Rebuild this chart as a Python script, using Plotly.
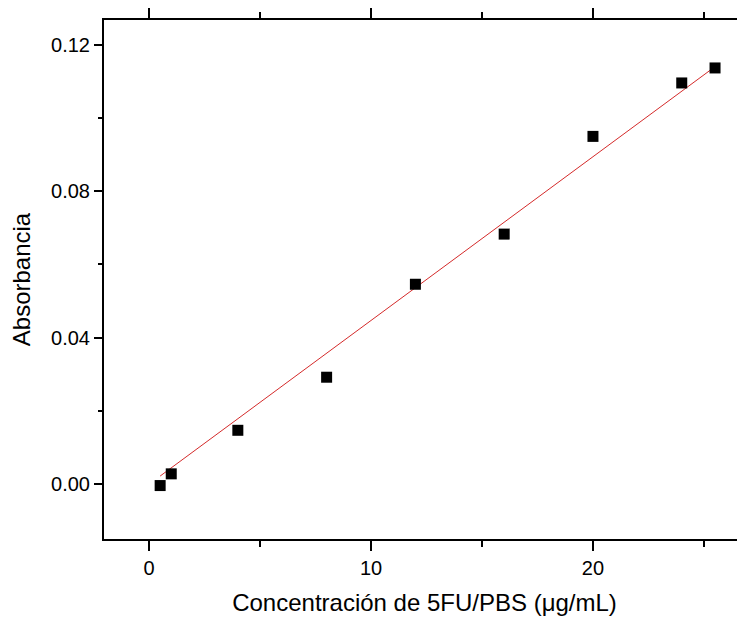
import plotly.graph_objects as go

# concentracion de 5FU en PBS (ug/mL) y absorbancia medida
conc = [0.5, 1, 4, 8, 12, 16, 20, 24, 25.5]
absorb = [-0.0004, 0.0028, 0.0147, 0.0292, 0.0546, 0.0683, 0.0950, 0.1096, 0.1137]

# recta de ajuste lineal (extremos)
fit_x = [0.5, 25.6]
fit_y = [0.0022, 0.1145]

x_ticks = [0, 10, 20]
y_ticks = [0.00, 0.04, 0.08, 0.12]
y_tick_text = ["0.00", "0.04", "0.08", "0.12"]

fig = go.Figure()
fig.add_trace(go.Scatter(x=fit_x, y=fit_y, mode="lines",
                         line=dict(color="#d42a2a", width=1), showlegend=False))
fig.add_trace(go.Scatter(x=conc, y=absorb, mode="markers",
                         marker=dict(symbol="square", size=11, color="black"),
                         showlegend=False))

font = "Liberation Sans, Arial, sans-serif"
# la pagina tiene 8px de margen en el body, por eso 737x609
fig.update_layout(
    width=737, height=609,
    margin=dict(l=96, r=0, t=12, b=78),
    plot_bgcolor="white", paper_bgcolor="white",
    font=dict(family=font, color="black"),
)
fig.update_xaxes(
    range=[-2.03, 26.85], tickvals=x_ticks, ticks="outside", ticklen=10, tickwidth=2,
    tickcolor="black", showline=True, linewidth=2, linecolor="black", mirror="ticks",
    showgrid=False, zeroline=False, tickfont=dict(size=20), automargin=False,
    minor=dict(dtick=5, tick0=0, ticks="outside", ticklen=6, tickwidth=2, tickcolor="black", showgrid=False),
    title=dict(text="Concentración de 5FU/PBS (μg/mL)", font=dict(size=24), standoff=16),
)
fig.update_yaxes(
    range=[-0.0150, 0.1268], tickvals=y_ticks, ticktext=y_tick_text, ticks="outside",
    ticklen=8, tickwidth=2, tickcolor="black", showline=True, linewidth=2, linecolor="black",
    showgrid=False, zeroline=False, tickfont=dict(size=20), automargin=False,
    minor=dict(dtick=0.02, tick0=0, ticks="outside", ticklen=4, tickwidth=2, tickcolor="black", showgrid=False),
    title=dict(text="Absorbancia", font=dict(size=24), standoff=16),
)

fig.write_html("out.html")
